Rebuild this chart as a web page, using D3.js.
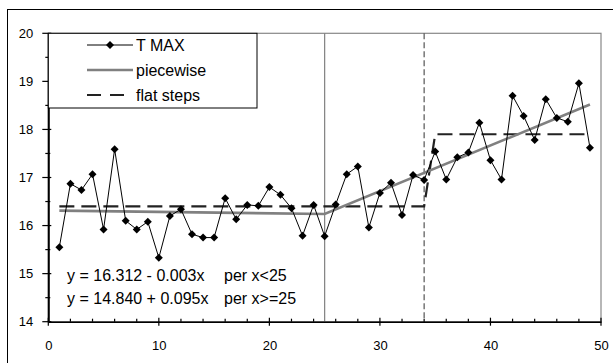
<!DOCTYPE html>
<html><head><meta charset="utf-8">
<script src="https://cdn.jsdelivr.net/npm/d3@7/dist/d3.min.js"></script>
<style>body{margin:0;background:#fff;}svg{display:block;font-family:"Liberation Sans",Arial,sans-serif;}</style>
</head><body><svg id="c" width="613" height="363"></svg>
<script>
const tmaxX = d3.range(1, 50);
const tmaxY = [15.55,16.87,16.74,17.07,15.92,17.59,16.10,15.92,16.08,15.33,
  16.20,16.34,15.82,15.75,15.75,16.57,16.13,16.43,16.41,16.80,
  16.64,16.36,15.79,16.43,15.78,16.44,17.07,17.23,15.96,16.68,
  16.89,16.22,17.05,16.95,17.54,16.96,17.42,17.52,18.14,17.36,
  16.96,18.70,18.28,17.78,18.63,18.24,18.16,18.96,17.62];
const pieceX = [1, 25, 49];
const pieceY = [16.31, 16.24, 18.52];
const stepX = [1, 34, 35, 49];
const stepY = [16.4, 16.4, 17.9, 17.9];
const breakSolid = 25, breakDashed = 34;
const xTicks = [0,10,20,30,40,50];
const yTicks = [14,15,16,17,18,19,20];
const legendLabels = ["T MAX","piecewise","flat steps"];
const eqLines = [["y = 16.312 - 0.003x","per x<25"],["y = 14.840 + 0.095x","per x>=25"]];

const svg = d3.select("#c");
const L=48.3, R=601, T=33.3, B=321.7;
const x = d3.scaleLinear().domain([0,50]).range([L,R]);
const y = d3.scaleLinear().domain([14,20]).range([B,T]);

svg.append("rect").attr("x",7.5).attr("y",9.5).attr("width",640).attr("height",400)
  .attr("fill","#fff").attr("stroke","#000").attr("stroke-width",1);
svg.append("rect").attr("x",L).attr("y",T).attr("width",R-L).attr("height",B-T)
  .attr("fill","#fff").attr("stroke","#888").attr("stroke-width",1.2);

svg.append("line").attr("x1",x(breakSolid)).attr("x2",x(breakSolid)).attr("y1",T).attr("y2",B)
  .attr("stroke","#808080").attr("stroke-width",1.2);
svg.append("line").attr("x1",x(breakDashed)).attr("x2",x(breakDashed)).attr("y1",T).attr("y2",B)
  .attr("stroke","#555").attr("stroke-width",1.2).attr("stroke-dasharray","6,3");

const xAxis = d3.axisBottom(x).tickValues(xTicks).tickFormat(d3.format("d")).tickSizeInner(0).tickSizeOuter(0).tickPadding(19);
const gx = svg.append("g").attr("transform",`translate(0,${B})`).call(xAxis);
gx.select(".domain").attr("stroke","#000").attr("stroke-width",1.5);
gx.selectAll("text").attr("font-size",13).attr("font-family","Liberation Sans, Arial").attr("fill","#000");
const yAxis = d3.axisLeft(y).tickValues(yTicks).tickFormat(d3.format("d")).tickSizeInner(0).tickSizeOuter(0).tickPadding(15);
const gy = svg.append("g").attr("transform",`translate(${L},0)`).call(yAxis);
gy.select(".domain").attr("stroke","#000").attr("stroke-width",2);
gy.selectAll("text").attr("font-size",13).attr("font-family","Liberation Sans, Arial").attr("fill","#000");

const xMinor = d3.range(0,51,2).filter(v=>v%10!==0);
svg.selectAll(".xmaj").data(xTicks).enter().append("line")
  .attr("x1",d=>x(d)).attr("x2",d=>x(d)).attr("y1",B-4).attr("y2",B+4).attr("stroke","#000").attr("stroke-width",1.2);
svg.selectAll(".xmin").data(xMinor).enter().append("line")
  .attr("x1",d=>x(d)).attr("x2",d=>x(d)).attr("y1",B-3).attr("y2",B).attr("stroke","#000").attr("stroke-width",1.2);
const yMinor = d3.range(14.5,20,1);
svg.selectAll(".ymaj").data(yTicks).enter().append("line")
  .attr("x1",L-6).attr("x2",L+3).attr("y1",d=>y(d)).attr("y2",d=>y(d)).attr("stroke","#000").attr("stroke-width",1.2);
svg.selectAll(".ymin").data(yMinor).enter().append("line")
  .attr("x1",L-3).attr("x2",L+2).attr("y1",d=>y(d)).attr("y2",d=>y(d)).attr("stroke","#000").attr("stroke-width",1.2);

const line = d3.line().x(d=>x(d[0])).y(d=>y(d[1]));
svg.append("path").datum(stepX.map((v,i)=>[v,stepY[i]])).attr("d",line)
  .attr("fill","none").attr("stroke","#222").attr("stroke-width",2.2).attr("stroke-dasharray","15,7");
svg.append("path").datum(pieceX.map((v,i)=>[v,pieceY[i]])).attr("d",line)
  .attr("fill","none").attr("stroke","#808080").attr("stroke-width",2.6);
const tm = tmaxX.map((v,i)=>[v,tmaxY[i]]);
svg.append("path").datum(tm).attr("d",line).attr("fill","none").attr("stroke","#000").attr("stroke-width",1);
const sym = d3.symbol().type(d3.symbolSquare).size(32);
svg.selectAll(".pt").data(tm).enter().append("path").attr("d",sym)
  .attr("transform",d=>`translate(${x(d[0])},${y(d[1])}) rotate(45)`).attr("fill","#000");

const lg = svg.append("g");
lg.append("rect").attr("x",L).attr("y",T).attr("width",257-L).attr("height",108-T)
  .attr("fill","#fff").attr("stroke","#000").attr("stroke-width",1);
const rowY = [45,70,95];
const lx1=87, lx2=133;
lg.append("line").attr("x1",lx1).attr("x2",lx2).attr("y1",rowY[0]).attr("y2",rowY[0]).attr("stroke","#000").attr("stroke-width",1);
lg.append("path").attr("d",sym).attr("transform",`translate(${(lx1+lx2)/2},${rowY[0]}) rotate(45)`).attr("fill","#000");
lg.append("line").attr("x1",lx1).attr("x2",lx2).attr("y1",rowY[1]).attr("y2",rowY[1]).attr("stroke","#808080").attr("stroke-width",2.6);
lg.append("line").attr("x1",lx1).attr("x2",lx2).attr("y1",rowY[2]).attr("y2",rowY[2]).attr("stroke","#222").attr("stroke-width",2.2).attr("stroke-dasharray","14,9");
legendLabels.forEach((t,i)=>{
  lg.append("text").attr("x",136).attr("y",rowY[i]).attr("dy","0.36em").attr("font-size",16).attr("fill","#000").text(t);
});

const eqY = [275, 298];
eqLines.forEach((p,i)=>{
  svg.append("text").attr("x",67).attr("y",eqY[i]).attr("dy","0.36em").attr("font-size",16).attr("fill","#000").text(p[0]);
  svg.append("text").attr("x",224).attr("y",eqY[i]).attr("dy","0.36em").attr("font-size",16).attr("fill","#000").text(p[1]);
});
</script></body></html>
